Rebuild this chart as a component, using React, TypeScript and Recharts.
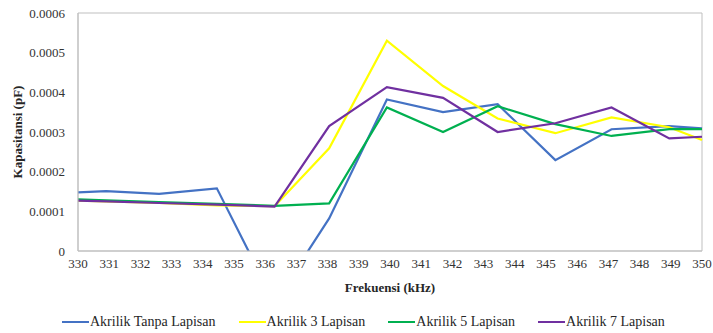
import { LineChart, Line, XAxis, YAxis, Legend, ReferenceArea } from "recharts"

const frekuensi = [330, 330.9, 332.6, 334.45, 336.3, 338.05, 339.9, 341.7, 343.45, 345.3, 347.1, 348.95, 350]

const tanpaLapisan = [0.000148, 0.000151, 0.000144, 0.000158, -0.00013, 0.000082, 0.000382, 0.00035, 0.00037, 0.000229, 0.000307, 0.000315, 0.000309]
const lapisan3 = [0.000127, 0.000125, 0.000121, 0.000115, 0.000113, 0.000259, 0.00053, 0.000416, 0.000334, 0.000297, 0.000337, 0.000312, 0.00028]
const lapisan5 = [0.00013, 0.000128, 0.000123, 0.000119, 0.000114, 0.00012, 0.000362, 0.0003, 0.000365, 0.00032, 0.00029, 0.000307, 0.000307]
const lapisan7 = [0.000127, 0.000125, 0.000121, 0.000117, 0.000112, 0.000315, 0.000413, 0.000386, 0.0003, 0.000322, 0.000362, 0.000284, 0.000288]

const xTicks = [330, 331, 332, 333, 334, 335, 336, 337, 338, 339, 340, 341, 342, 343, 344, 345, 346, 347, 348, 349, 350]
const yTicks = [0, 0.0001, 0.0002, 0.0003, 0.0004, 0.0005, 0.0006]

const series = [
  { key: "tanpa", name: "Akrilik Tanpa Lapisan", color: "#4472C4", values: tanpaLapisan },
  { key: "l3", name: "Akrilik 3 Lapisan", color: "#FFFF00", values: lapisan3 },
  { key: "l5", name: "Akrilik 5 Lapisan", color: "#00B050", values: lapisan5 },
  { key: "l7", name: "Akrilik 7 Lapisan", color: "#7030A0", values: lapisan7 },
]

const data = frekuensi.map((x, i) => {
  const row: Record<string, number> = { x }
  series.forEach(s => { row[s.key] = s.values[i] })
  return row
})

const FONT = '"Liberation Serif", "Times New Roman", serif'
const AXIS = "#bfbfbf"

function LegendBox() {
  return (
    <div style={{ display: "flex", alignItems: "center", height: 22, paddingLeft: 62, gap: 23, fontFamily: FONT, fontSize: 14, color: "#262626" }}>
      {series.map(s => (
        <div key={s.key} style={{ display: "flex", alignItems: "center" }}>
          <span style={{ display: "inline-block", width: 27, height: 2.5, background: s.color, marginRight: 1 }} />
          <span>{s.name}</span>
        </div>
      ))}
    </div>
  )
}

export default function App() {
  return (
    <div style={{ position: "absolute", left: 0, top: 0, width: 713, height: 333 }}>
      <LineChart width={713} height={333} data={data} margin={{ top: 13, right: 11, bottom: 0, left: 0 }}>
        <XAxis
          dataKey="x"
          type="number"
          domain={[330, 350]}
          ticks={xTicks}
          interval={0}
          tickLine={false}
          stroke={AXIS}
          height={60}
          tick={{ fill: "#333", fontFamily: FONT, fontSize: 13 }}
          label={({ viewBox }: any) => (
            <text x={viewBox.x + viewBox.width / 2} y={viewBox.y + 36} textAnchor="middle" dominantBaseline="central"
              fontFamily={FONT} fontSize={13} fontWeight="bold" fill="#262626">Frekuensi (kHz)</text>
          )}
        />
        <YAxis
          type="number"
          domain={[0, 0.0006]}
          ticks={yTicks}
          allowDataOverflow
          tickLine={false}
          tickMargin={7}
          stroke={AXIS}
          width={78}
          tickFormatter={(v: number) => (v === 0 ? "0" : v.toFixed(4))}
          tick={{ fill: "#333", fontFamily: FONT, fontSize: 13 }}
          label={({ viewBox }: any) => {
            const cx = 17
            const cy = viewBox.y + viewBox.height / 2
            return (
              <text x={cx} y={cy} transform={`rotate(-90, ${cx}, ${cy})`} textAnchor="middle" dominantBaseline="central"
                fontFamily={FONT} fontSize={13} fontWeight="bold" fill="#262626">Kapasitansi (pF)</text>
            )
          }}
        />
        <ReferenceArea x1={330} x2={350} y1={0} y2={0.0006} fill="none" stroke={AXIS} strokeWidth={1} />
        {series.map(s => (
          <Line
            key={s.key}
            type="linear"
            dataKey={s.key}
            name={s.name}
            stroke={s.color}
            strokeWidth={2.2}
            dot={false}
            activeDot={false}
            isAnimationActive={false}
          />
        ))}
        <Legend verticalAlign="bottom" content={() => <LegendBox />} wrapperStyle={{ left: 0, width: 713, bottom: 0, height: 22 }} />
      </LineChart>
    </div>
  )
}
